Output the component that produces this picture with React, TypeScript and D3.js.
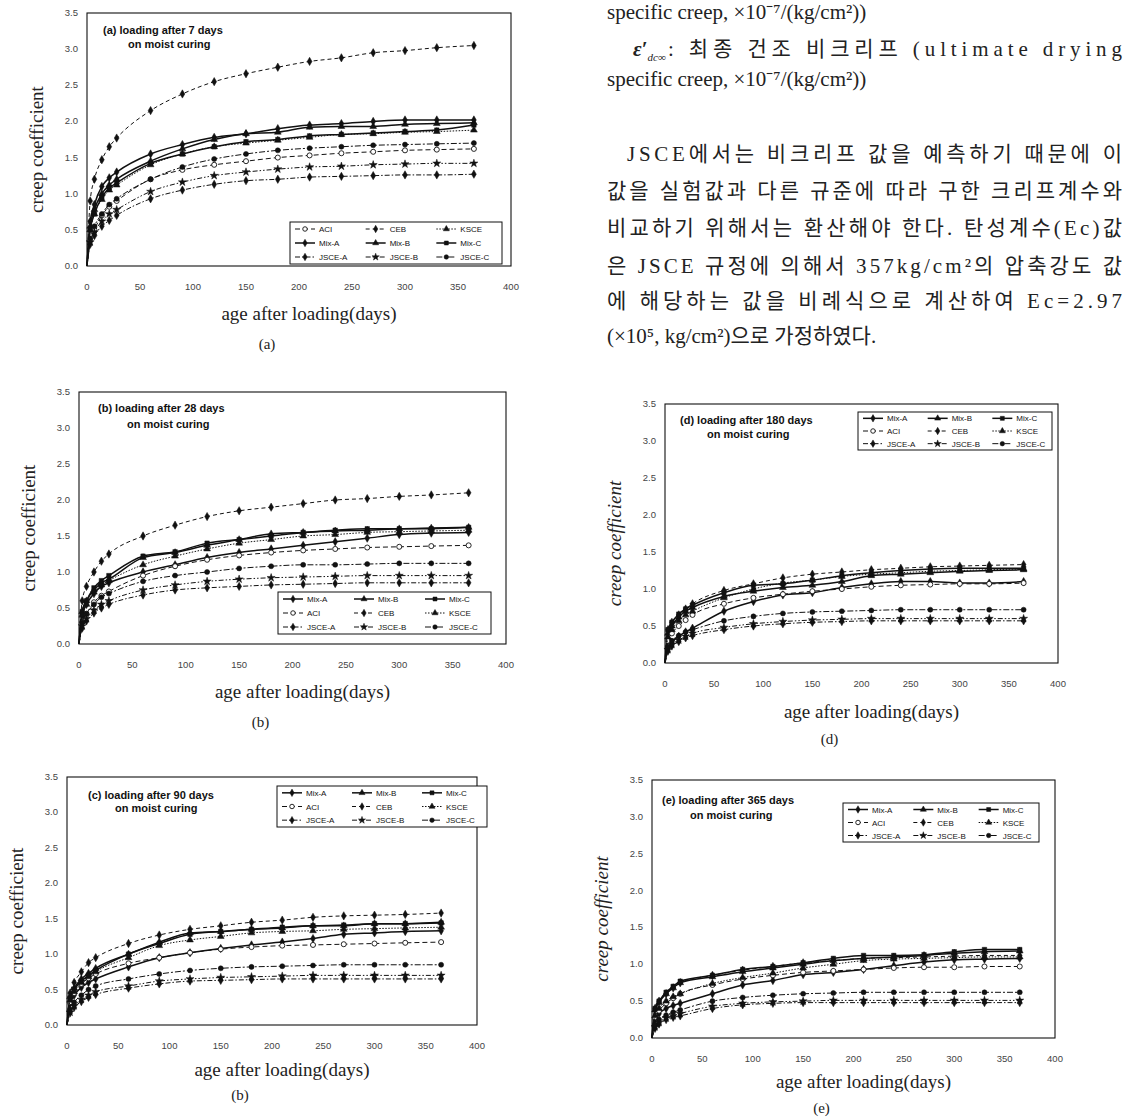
import React from 'react'
import * as d3 from 'd3'

// days after loading where values are read
const days = [0, 3, 7, 14, 21, 28, 60, 90, 120, 150, 180, 210, 240, 270, 300, 330, 365]
const seriesNames = ['Mix-A', 'Mix-B', 'Mix-C', 'ACI', 'CEB', 'KSCE', 'JSCE-A', 'JSCE-B', 'JSCE-C']
const legendOrderA = ['ACI', 'CEB', 'KSCE', 'Mix-A', 'Mix-B', 'Mix-C', 'JSCE-A', 'JSCE-B', 'JSCE-C']
const yTicks = [0, 0.5, 1, 1.5, 2, 2.5, 3, 3.5]
const xTicks = [0, 50, 100, 150, 200, 250, 300, 350, 400]

// (a) loading after 7 days
const creep7: Record<string, number[]> = {
  'Mix-A': [0, 0.62, 0.85, 1.1, 1.22, 1.3, 1.55, 1.68, 1.78, 1.83, 1.9, 1.95, 1.97, 2.0, 2.02, 2.02, 2.02],
  'Mix-B': [0, 0.55, 0.78, 1.0, 1.12, 1.2, 1.45, 1.62, 1.75, 1.83, 1.85, 1.92, 1.93, 1.93, 1.96, 1.97, 1.98],
  'Mix-C': [0, 0.5, 0.72, 0.95, 1.08, 1.15, 1.42, 1.55, 1.65, 1.72, 1.75, 1.8, 1.82, 1.84, 1.86, 1.88, 1.95],
  'ACI': [0, 0.35, 0.5, 0.7, 0.82, 0.9, 1.2, 1.33, 1.4, 1.45, 1.5, 1.53, 1.56, 1.58, 1.6, 1.61, 1.62],
  'CEB': [0, 0.9, 1.2, 1.47, 1.65, 1.77, 2.15, 2.38, 2.55, 2.66, 2.75, 2.83, 2.88, 2.95, 2.98, 3.02, 3.05],
  'KSCE': [0, 0.5, 0.72, 0.92, 1.05, 1.12, 1.4, 1.55, 1.65, 1.7, 1.74, 1.78, 1.82, 1.83, 1.85, 1.86, 1.88],
  'JSCE-A': [0, 0.3, 0.42, 0.55, 0.63, 0.7, 0.93, 1.05, 1.13, 1.18, 1.2, 1.23, 1.24, 1.25, 1.26, 1.26, 1.27],
  'JSCE-B': [0, 0.33, 0.47, 0.62, 0.72, 0.78, 1.03, 1.16, 1.25, 1.3, 1.34, 1.37, 1.38, 1.4, 1.41, 1.42, 1.42],
  'JSCE-C': [0, 0.38, 0.55, 0.72, 0.85, 0.93, 1.2, 1.37, 1.48, 1.55, 1.6, 1.63, 1.65, 1.67, 1.68, 1.69, 1.7],
}

// (b) loading after 28 days
const creep28: Record<string, number[]> = {
  'Mix-A': [0, 0.4, 0.55, 0.7, 0.8, 0.85, 1.0, 1.1, 1.2, 1.27, 1.32, 1.37, 1.42, 1.47, 1.52, 1.54, 1.55],
  'Mix-B': [0, 0.45, 0.6, 0.75, 0.85, 0.9, 1.2, 1.27, 1.37, 1.45, 1.53, 1.55, 1.57, 1.58, 1.6, 1.61, 1.62],
  'Mix-C': [0, 0.45, 0.6, 0.78, 0.88, 0.95, 1.22, 1.28, 1.4, 1.45, 1.5, 1.55, 1.58, 1.6, 1.6, 1.6, 1.62],
  'ACI': [0, 0.3, 0.42, 0.58, 0.67, 0.73, 0.95, 1.08, 1.17, 1.23, 1.27, 1.3, 1.32, 1.34, 1.35, 1.36, 1.37],
  'CEB': [0, 0.6, 0.8, 1.0, 1.15, 1.25, 1.5, 1.65, 1.77, 1.85, 1.9, 1.95, 2.0, 2.02, 2.05, 2.07, 2.1],
  'KSCE': [0, 0.4, 0.55, 0.72, 0.82, 0.88, 1.1, 1.22, 1.32, 1.4, 1.45, 1.5, 1.52, 1.55, 1.56, 1.57, 1.58],
  'JSCE-A': [0, 0.22, 0.32, 0.43, 0.5, 0.55, 0.68, 0.75, 0.78, 0.8, 0.82, 0.83, 0.84, 0.85, 0.85, 0.85, 0.85],
  'JSCE-B': [0, 0.25, 0.35, 0.47, 0.55, 0.6, 0.75, 0.82, 0.87, 0.9, 0.92, 0.93, 0.94, 0.95, 0.95, 0.95, 0.95],
  'JSCE-C': [0, 0.3, 0.42, 0.55, 0.65, 0.7, 0.87, 0.95, 1.0, 1.05, 1.08, 1.1, 1.1, 1.11, 1.12, 1.12, 1.12],
}

// (c) loading after 90 days
const creep90: Record<string, number[]> = {
  'Mix-A': [0, 0.3, 0.42, 0.53, 0.6, 0.65, 0.82, 0.95, 1.02, 1.08, 1.13, 1.17, 1.22, 1.28, 1.3, 1.32, 1.33],
  'Mix-B': [0, 0.4, 0.52, 0.65, 0.73, 0.8, 1.0, 1.17, 1.3, 1.32, 1.35, 1.37, 1.4, 1.4, 1.43, 1.43, 1.45],
  'Mix-C': [0, 0.38, 0.5, 0.62, 0.7, 0.77, 1.0, 1.15, 1.28, 1.32, 1.35, 1.38, 1.4, 1.41, 1.43, 1.43, 1.44],
  'ACI': [0, 0.32, 0.45, 0.58, 0.66, 0.72, 0.87, 0.95, 1.02, 1.07, 1.1, 1.12, 1.13, 1.14, 1.15, 1.16, 1.17],
  'CEB': [0, 0.45, 0.6, 0.75, 0.88, 0.95, 1.15, 1.27, 1.35, 1.4, 1.45, 1.48, 1.52, 1.54, 1.55, 1.56, 1.58],
  'KSCE': [0, 0.35, 0.47, 0.6, 0.68, 0.75, 0.95, 1.12, 1.2, 1.25, 1.3, 1.32, 1.33, 1.35, 1.36, 1.37, 1.38],
  'JSCE-A': [0, 0.17, 0.25, 0.33, 0.39, 0.43, 0.52, 0.58, 0.62, 0.63, 0.64, 0.65, 0.65, 0.65, 0.65, 0.65, 0.65],
  'JSCE-B': [0, 0.18, 0.27, 0.36, 0.42, 0.47, 0.55, 0.62, 0.65, 0.67, 0.68, 0.69, 0.7, 0.7, 0.7, 0.7, 0.7],
  'JSCE-C': [0, 0.22, 0.32, 0.42, 0.5, 0.55, 0.65, 0.72, 0.77, 0.8, 0.82, 0.83, 0.84, 0.85, 0.85, 0.85, 0.85],
}

// (d) loading after 180 days
const creep180: Record<string, number[]> = {
  'Mix-A': [0, 0.2, 0.28, 0.36, 0.42, 0.47, 0.7, 0.83, 0.92, 0.95, 1.02, 1.07, 1.1, 1.1, 1.08, 1.08, 1.1],
  'Mix-B': [0, 0.4, 0.5, 0.62, 0.7, 0.75, 0.9, 0.97, 1.02, 1.05, 1.1, 1.18, 1.2, 1.22, 1.24, 1.25, 1.26],
  'Mix-C': [0, 0.45, 0.55, 0.66, 0.73, 0.78, 0.95, 1.05, 1.07, 1.12, 1.18, 1.22, 1.25, 1.27, 1.28, 1.28, 1.28],
  'ACI': [0, 0.3, 0.4, 0.5, 0.58, 0.65, 0.8, 0.88, 0.93, 0.97, 1.0, 1.03, 1.05, 1.06, 1.07, 1.07, 1.08],
  'CEB': [0, 0.45, 0.55, 0.65, 0.73, 0.8, 0.98, 1.07, 1.15, 1.2, 1.23, 1.26, 1.28, 1.3, 1.31, 1.32, 1.33],
  'KSCE': [0, 0.35, 0.45, 0.57, 0.65, 0.7, 0.88, 1.0, 1.08, 1.12, 1.17, 1.2, 1.22, 1.24, 1.25, 1.26, 1.27],
  'JSCE-A': [0, 0.16, 0.23, 0.29, 0.34, 0.37, 0.45, 0.5, 0.53, 0.55, 0.56, 0.57, 0.57, 0.57, 0.57, 0.57, 0.57],
  'JSCE-B': [0, 0.18, 0.25, 0.31, 0.36, 0.4, 0.48, 0.53, 0.56, 0.58, 0.59, 0.6, 0.6, 0.6, 0.6, 0.6, 0.6],
  'JSCE-C': [0, 0.22, 0.3, 0.37, 0.42, 0.45, 0.57, 0.63, 0.67, 0.69, 0.7, 0.71, 0.72, 0.72, 0.72, 0.72, 0.72],
}

// (e) loading after 365 days
const creep365: Record<string, number[]> = {
  'Mix-A': [0, 0.25, 0.33, 0.4, 0.44, 0.47, 0.6, 0.72, 0.78, 0.86, 0.89, 0.93, 0.98, 1.03, 1.06, 1.07, 1.08],
  'Mix-B': [0, 0.38, 0.48, 0.6, 0.68, 0.75, 0.83, 0.9, 0.95, 1.0, 1.05, 1.08, 1.1, 1.12, 1.15, 1.17, 1.18],
  'Mix-C': [0, 0.4, 0.5, 0.62, 0.7, 0.77, 0.85, 0.93, 0.97, 1.02, 1.08, 1.12, 1.12, 1.13, 1.17, 1.2, 1.2],
  'ACI': [0, 0.28, 0.37, 0.47, 0.54, 0.6, 0.72, 0.8, 0.85, 0.89, 0.91, 0.93, 0.95, 0.96, 0.96, 0.97, 0.97],
  'CEB': [0, 0.4, 0.5, 0.6, 0.68, 0.75, 0.85, 0.92, 0.97, 1.02, 1.05, 1.08, 1.09, 1.1, 1.11, 1.12, 1.12],
  'KSCE': [0, 0.3, 0.4, 0.5, 0.56, 0.6, 0.74, 0.82, 0.88, 0.95, 1.0, 1.05, 1.07, 1.08, 1.09, 1.1, 1.1],
  'JSCE-A': [0, 0.13, 0.19, 0.25, 0.28, 0.3, 0.4, 0.45, 0.47, 0.48, 0.48, 0.48, 0.48, 0.48, 0.48, 0.48, 0.48],
  'JSCE-B': [0, 0.15, 0.21, 0.27, 0.3, 0.33, 0.43, 0.47, 0.49, 0.5, 0.51, 0.51, 0.51, 0.51, 0.51, 0.51, 0.51],
  'JSCE-C': [0, 0.18, 0.25, 0.31, 0.35, 0.38, 0.5, 0.55, 0.58, 0.6, 0.61, 0.62, 0.62, 0.62, 0.62, 0.62, 0.62],
}

const styles: Record<string, { dash: string; sym: any; open?: boolean; w: number }> = {
  'Mix-A': { dash: '', sym: d3.symbolDiamond, w: 1.5 },
  'Mix-B': { dash: '', sym: d3.symbolTriangle, w: 1.5 },
  'Mix-C': { dash: '', sym: d3.symbolSquare, w: 1.5 },
  'ACI': { dash: '5,3', sym: d3.symbolCircle, open: true, w: 1 },
  'CEB': { dash: '4,3', sym: d3.symbolDiamond, w: 1 },
  'KSCE': { dash: '1.5,1.5', sym: d3.symbolTriangle, w: 1 },
  'JSCE-A': { dash: '5,2,1.5,2', sym: d3.symbolDiamond, w: 1 },
  'JSCE-B': { dash: '5,2,1.5,2,1.5,2', sym: d3.symbolStar, w: 1 },
  'JSCE-C': { dash: '6,2,2,2', sym: d3.symbolCircle, w: 1 },
}

const panels = [
  { data: creep7, order: legendOrderA, x0: 87, x1: 511, yTop: 13, yBot: 266,
    title: ['(a) loading after 7 days', 'on moist curing'], tx: [103, 128], ty: [34, 48],
    leg: { x: 290, y: 222, w: 212, h: 42 }, axY: 320, cap: '(a)', capY: 349, italic: false },
  { data: creep28, order: seriesNames, x0: 79, x1: 506, yTop: 392, yBot: 644,
    title: ['(b) loading after 28 days', 'on moist curing'], tx: [98, 127], ty: [412, 428],
    leg: { x: 278, y: 592, w: 213, h: 42 }, axY: 698, cap: '(b)', capY: 727, italic: false },
  { data: creep90, order: seriesNames, x0: 67, x1: 477, yTop: 777, yBot: 1025,
    title: ['(c) loading after 90 days', 'on moist curing'], tx: [88, 115], ty: [799, 812],
    leg: { x: 277, y: 786, w: 210, h: 41 }, axY: 1076, cap: '(b)', capY: 1100, italic: false },
  { data: creep180, order: seriesNames, x0: 665, x1: 1058, yTop: 404, yBot: 663,
    title: ['(d) loading after 180 days', 'on moist curing'], tx: [680, 707], ty: [424, 438],
    leg: { x: 858, y: 412, w: 194, h: 38 }, axY: 718, cap: '(d)', capY: 744, italic: true },
  { data: creep365, order: seriesNames, x0: 652, x1: 1055, yTop: 780, yBot: 1038,
    title: ['(e) loading after 365 days', 'on moist curing'], tx: [662, 690], ty: [804, 819],
    leg: { x: 843, y: 803, w: 196, h: 39 }, axY: 1088, cap: '(e)', capY: 1113, italic: true },
]

const sans = '"Liberation Sans", Arial, sans-serif'
const serif = '"Liberation Serif", "Times New Roman", serif'
const textFont = '"Liberation Serif", "Noto Sans CJK KR", serif'

function Marker({ name, cx, cy, size }: { name: string; cx: number; cy: number; size: number }) {
  const s = styles[name]
  const path = d3.symbol().type(s.sym).size(size)() || ''
  return (
    <path d={path} transform={`translate(${cx},${cy})`}
      fill={s.open ? '#fff' : '#111'} stroke="#111" strokeWidth={s.open ? 0.9 : 0.5} />
  )
}

function Panel({ p }: { p: any }) {
  const x = d3.scaleLinear().domain([0, 400]).range([p.x0, p.x1])
  const y = d3.scaleLinear().domain([0, 3.5]).range([p.yBot, p.yTop])
  const line = d3.line<number>().x((_, i) => x(days[i])).y(d => y(d)).curve(d3.curveMonotoneX)
  const midX = (p.x0 + p.x1) / 2 + 10
  const midY = (p.yTop + p.yBot) / 2 + 10
  const cw = p.leg.w / 3
  const rh = p.leg.h / 3
  return (
    <g>
      <rect x={p.x0} y={p.yTop} width={p.x1 - p.x0} height={p.yBot - p.yTop}
        fill="none" stroke="#111" strokeWidth={1.1} />
      {yTicks.map(t => (
        <text key={'y' + t} x={p.x0 - 9} y={y(t) + 3} textAnchor="end"
          fontFamily={sans} fontSize={9.5} fill="#444">{t.toFixed(1)}</text>
      ))}
      {xTicks.map(t => (
        <text key={'x' + t} x={x(t)} y={p.yBot + 24} textAnchor="middle"
          fontFamily={sans} fontSize={9.5} fill="#444">{t}</text>
      ))}
      {seriesNames.map(n => (
        <g key={n}>
          <path d={line(p.data[n]) || ''} fill="none" stroke="#111"
            strokeWidth={styles[n].w} strokeDasharray={styles[n].dash} />
          {p.data[n].map((v: number, i: number) => i === 0 ? null : (
            <Marker key={i} name={n} cx={x(days[i])} cy={y(v)} size={20} />
          ))}
        </g>
      ))}
      <text x={p.tx[0]} y={p.ty[0]} fontFamily={sans} fontWeight="bold" fontSize={11} fill="#111">{p.title[0]}</text>
      <text x={p.tx[1]} y={p.ty[1]} fontFamily={sans} fontWeight="bold" fontSize={11} fill="#111">{p.title[1]}</text>
      <rect x={p.leg.x} y={p.leg.y} width={p.leg.w} height={p.leg.h} fill="#fff" stroke="#111" strokeWidth={1} />
      {p.order.map((n: string, i: number) => {
        const lx = p.leg.x + 5 + (i % 3) * cw
        const ly = p.leg.y + rh * (Math.floor(i / 3) + 0.5)
        return (
          <g key={'l' + n}>
            <line x1={lx} x2={lx + 20} y1={ly} y2={ly} stroke="#111"
              strokeWidth={styles[n].w} strokeDasharray={styles[n].dash} />
            <Marker name={n} cx={lx + 10} cy={ly} size={16} />
            <text x={lx + 24} y={ly + 3} fontFamily={sans} fontSize={8} fill="#111">{n}</text>
          </g>
        )
      })}
      <text transform={`translate(${p.x0 - 44},${midY}) rotate(-90)`} textAnchor="middle"
        fontFamily={serif} fontStyle={p.italic ? 'italic' : 'normal'} fontSize={19} fill="#222">creep coefficient</text>
      <text x={midX} y={p.axY} textAnchor="middle" fontFamily={serif} fontSize={19} fill="#222">age after loading(days)</text>
      <text x={midX - 42} y={p.capY} textAnchor="middle" fontFamily={serif} fontSize={15} fill="#222">{p.cap}</text>
    </g>
  )
}

// body text of the right column; justified lines run to the column edge
const colEnd = 1122
const bodyLines = [
  { x: 607, y: 19, t: 'specific creep, ×10⁻⁷/(kg/cm²))', just: false },
  { x: 607, y: 86, t: 'specific creep, ×10⁻⁷/(kg/cm²))', just: false },
  { x: 627, y: 161, t: 'JSCE에서는 비크리프 값을 예측하기 때문에 이', just: true },
  { x: 607, y: 198, t: '값을 실험값과 다른 규준에 따라 구한 크리프계수와', just: true },
  { x: 607, y: 235, t: '비교하기 위해서는 환산해야 한다. 탄성계수(Ec)값', just: true },
  { x: 607, y: 273, t: '은 JSCE 규정에 의해서 357kg/cm²의 압축강도 값', just: true },
  { x: 607, y: 308, t: '에 해당하는 값을 비례식으로 계산하여 Ec=2.97', just: true },
  { x: 607, y: 343, t: '(×10⁵, kg/cm²)으로 가정하였다.', just: false },
]

export default function App() {
  return (
    <svg width={1127} height={1119} style={{ position: 'absolute', left: 0, top: 0, background: '#fff' }}>
      <rect width={1127} height={1119} fill="#fff" />
      {panels.map((p, i) => <Panel key={i} p={p} />)}
      {bodyLines.map((l, i) => (
        <text key={i} x={l.x} y={l.y} fontFamily={textFont} fontSize={21} fill="#222"
          textLength={l.just ? colEnd - l.x : undefined} lengthAdjust="spacing">{l.t}</text>
      ))}
      <text x={633} y={56} fontFamily={textFont} fontSize={21} fill="#222">
        <tspan fontStyle="italic" fontWeight="bold">ε′</tspan>
        <tspan fontSize={11} fontStyle="italic" dy={5}>dc∞</tspan>
      </text>
      <text x={668} y={56} fontFamily={textFont} fontSize={21} fill="#222"
        textLength={colEnd - 668} lengthAdjust="spacing"> : 최종 건조 비크리프 (ultimate drying</text>
    </svg>
  )
}
